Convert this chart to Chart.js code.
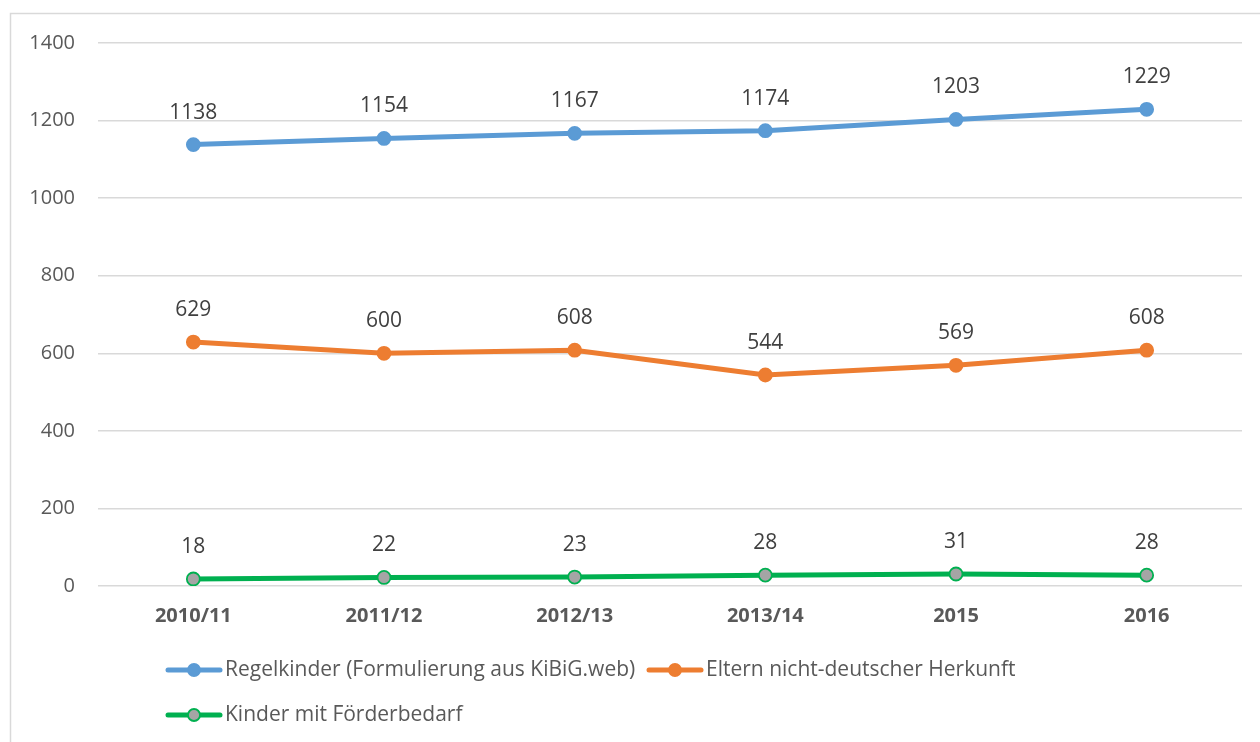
<!DOCTYPE html>
<html>
<head>
<meta charset="utf-8">
<script src="https://cdn.jsdelivr.net/npm/chart.js@4.4.1/dist/chart.umd.min.js"></script>
<style>
html,body{margin:0;padding:0;background:#fff;}
#wrap{position:relative;width:1260px;height:742px;}
</style>
</head>
<body>
<div id="wrap"><canvas id="c" width="1260" height="742"></canvas></div>
<script>
const categories = ["2010/11","2011/12","2012/13","2013/14","2015","2016"];
const regelkinder = [1138,1154,1167,1174,1203,1229];
const elternNichtDeutsch = [629,600,608,544,569,608];
const foerderbedarf = [18,22,23,28,31,28];
const seriesNames = ["Regelkinder (Formulierung aus KiBiG.web)","Eltern nicht-deutscher Herkunft","Kinder mit Förderbedarf"];
const yTicks = [0,200,400,600,800,1000,1200,1400];

const FONT = "'Open Sans', sans-serif";
const TXT = '#595959';

const borderPlugin = {
  id:'border',
  beforeDraw(chart){
    const ctx = chart.ctx;
    ctx.save();
    ctx.fillStyle='#fff';
    ctx.fillRect(0,0,chart.width,chart.height);
    ctx.strokeStyle='#d9d9d9';
    ctx.lineWidth=1.5;
    ctx.strokeRect(10.5,13.5,1400,900);
    ctx.restore();
  }
};

const labelPlugin = {
  id:'dlabels',
  afterDatasetsDraw(chart){
    const ctx = chart.ctx;
    ctx.save();
    ctx.font = "21px " + FONT;
    ctx.fillStyle = '#404040';
    ctx.textAlign='center';
    ctx.textBaseline='middle';
    chart.data.datasets.forEach((ds,i)=>{
      const meta = chart.getDatasetMeta(i);
      meta.data.forEach((pt,j)=>{
        ctx.fillText(String(ds.data[j]), pt.x, pt.y-32);
      });
    });
    ctx.restore();
  }
};

const legendPlugin = {
  id:'customLegend',
  afterDraw(chart){
    const ctx = chart.ctx;
    const items = [
      {x:166,y:670,ds:0},
      {x:647,y:670,ds:1},
      {x:166,y:715,ds:2}
    ];
    ctx.save();
    ctx.font = "21px " + FONT;
    ctx.textBaseline='middle';
    items.forEach(it=>{
      const ds = chart.data.datasets[it.ds];
      ctx.strokeStyle = ds.borderColor;
      ctx.lineWidth = 5;
      ctx.lineCap='round';
      ctx.beginPath();
      ctx.moveTo(it.x+2,it.y);
      ctx.lineTo(it.x+54,it.y);
      ctx.stroke();
      ctx.beginPath();
      ctx.arc(it.x+28,it.y,6,0,Math.PI*2);
      ctx.fillStyle = ds.pointBackgroundColor;
      ctx.fill();
      ctx.lineWidth = 1.8;
      ctx.strokeStyle = ds.pointBorderColor;
      ctx.stroke();
      ctx.fillStyle = TXT;
      ctx.fillText(seriesNames[it.ds], it.x+59, it.y);
    });
    ctx.restore();
  }
};

function mkDs(label, data, color, ptFill, ptBorder){
  return {
    label, data,
    borderColor: color,
    backgroundColor: color,
    borderWidth: 5,
    pointRadius: 6.5,
    pointHoverRadius: 6.5,
    pointBackgroundColor: ptFill,
    pointBorderColor: ptBorder,
    pointBorderWidth: 1.8,
    tension: 0,
    fill: false
  };
}

new Chart(document.getElementById('c'), {
  type:'line',
  data:{
    labels: categories,
    datasets:[
      mkDs(seriesNames[0], regelkinder, '#5B9BD5', '#5B9BD5', '#5B9BD5'),
      mkDs(seriesNames[1], elternNichtDeutsch, '#ED7D31', '#ED7D31', '#ED7D31'),
      mkDs(seriesNames[2], foerderbedarf, '#00B050', '#A5A5A5', '#00B050')
    ]
  },
  options:{
    responsive:false,
    animation:false,
    devicePixelRatio:1,
    layout:{padding:{top:43,right:18,left:0,bottom:0}},
    plugins:{legend:{display:false},tooltip:{enabled:false}},
    scales:{
      x:{
        offset:true,
        grid:{display:false,drawTicks:false},
        border:{display:false},
        ticks:{font:{family:FONT,size:20,weight:'bold'},color:TXT,padding:18},
        afterFit(s){s.height=156;}
      },
      y:{
        min:0,max:1400,
        afterBuildTicks(s){s.ticks = yTicks.map(v=>({value:v}));},
        grid:{color:'#d9d9d9',lineWidth:1.5,drawTicks:false},
        border:{display:false},
        ticks:{font:{family:FONT,size:20},color:TXT,padding:23,callback:(v)=>String(v)},
        afterFit(s){s.width=98;}
      }
    }
  },
  plugins:[borderPlugin,labelPlugin,legendPlugin]
});
</script>
</body>
</html>
